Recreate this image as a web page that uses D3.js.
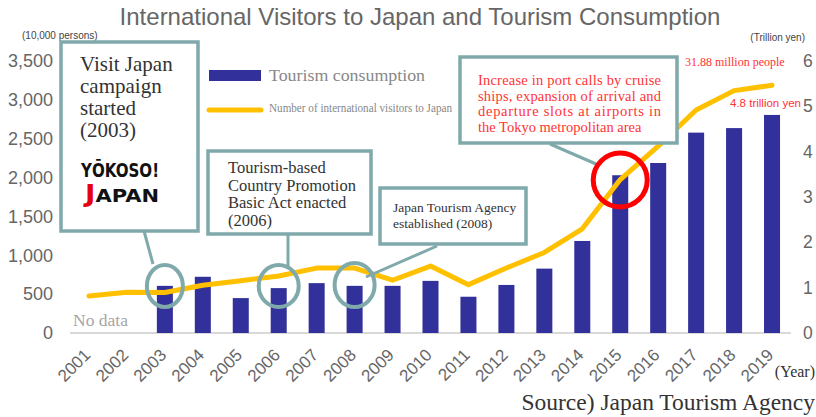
<!DOCTYPE html>
<html>
<head>
<meta charset="utf-8">
<script src="https://cdn.jsdelivr.net/npm/d3@7"></script>
<style>
body{margin:0;background:#fff;}
svg{display:block;}
.serif{font-family:"Liberation Serif","DejaVu Serif",serif;}
.sans{font-family:"Liberation Sans",Arial,sans-serif;}
</style>
</head>
<body>
<svg id="chart" width="816" height="417"></svg>
<script>
const years=["2001","2002","2003","2004","2005","2006","2007","2008","2009","2010","2011","2012","2013","2014","2015","2016","2017","2018","2019"];
// 訪日外国人旅行者数（万人）
const visitors=[477,524,521,614,673,733,835,835,679,861,622,836,1036,1341,1974,2404,2869,3119,3188];
// 旅行消費額（兆円）
const consumption=[null,null,1.04,1.24,0.77,0.99,1.10,1.04,1.04,1.15,0.80,1.06,1.42,2.03,3.48,3.75,4.42,4.52,4.81];
const leftTicks=[0,500,1000,1500,2000,2500,3000,3500];
const rightTicks=[0,1,2,3,4,5,6];

const svg=d3.select("#chart");
const TEAL="#7fa9aa";
const RED="#ff3333";

const x=d3.scaleBand().domain(years).range([70,791]).paddingInner(0.578).paddingOuter(0.289);
const yL=d3.scaleLinear().domain([0,3500]).range([333,61]);
const yR=d3.scaleLinear().domain([0,6]).range([333,61]);
const cx=y=>x(y)+x.bandwidth()/2;

// ---------- タイトル ----------
svg.append("text").attr("class","sans")
    .attr("x",420).attr("y",25).attr("text-anchor","middle")
    .attr("font-size",24).attr("fill","#666")
    .text("International Visitors to Japan and Tourism Consumption");
svg.append("text").attr("class","sans")
    .attr("x",22).attr("y",39).attr("font-size",10).attr("fill","#444")
    .text("(10,000 persons)");
svg.append("text").attr("class","sans")
    .attr("x",805).attr("y",41).attr("text-anchor","end").attr("font-size",10).attr("fill","#444")
    .text("(Trillion yen)");

// ---------- 軸 ----------
const axL=svg.append("g").attr("transform","translate(56,0)")
    .call(d3.axisLeft(yL).tickValues(leftTicks).tickFormat(d3.format(",")).tickSize(0).tickPadding(3));
const axR=svg.append("g").attr("transform","translate(800,0)")
    .call(d3.axisRight(yR).tickValues(rightTicks).tickFormat(d3.format("d")).tickSize(0).tickPadding(3));
[axL,axR].forEach(a=>{
    a.select(".domain").remove();
    a.selectAll("text").attr("font-family","Liberation Sans, Arial, sans-serif")
        .attr("font-size",18).attr("fill","#666");
});
axR.selectAll("text").attr("font-size",17.5);

// 年ラベル（45度回転）
const axB=svg.append("g").attr("transform","translate(0,333)")
    .call(d3.axisBottom(x).tickSize(0));
axB.select(".domain").remove();
axB.selectAll("text")
    .attr("font-family","Liberation Sans, Arial, sans-serif")
    .attr("font-size",17).attr("fill","#666")
    .attr("text-anchor","end").attr("x",0).attr("y",0).attr("dy",null)
    .attr("transform","translate(2.5,23) rotate(-45)");

svg.append("line").attr("x1",70).attr("x2",791).attr("y1",333).attr("y2",333)
    .attr("stroke","#d9d9d9").attr("stroke-width",2);

// ---------- 棒 ----------
svg.append("g").selectAll("rect")
    .data(years.map((y,i)=>({year:y,v:consumption[i]})).filter(d=>d.v!=null))
    .join("rect")
    .attr("x",d=>x(d.year)).attr("width",x.bandwidth())
    .attr("y",d=>yR(d.v)).attr("height",d=>yR(0)-yR(d.v))
    .attr("fill","#32309a");

// ---------- 折れ線 ----------
const line=d3.line().x((d,i)=>cx(years[i])).y(d=>yL(d));
svg.append("path").datum(visitors)
    .attr("d",line).attr("fill","none")
    .attr("stroke","#ffc000").attr("stroke-width",5)
    .attr("stroke-linejoin","round").attr("stroke-linecap","round");

svg.append("text").attr("class","serif")
    .attr("x",73).attr("y",326).attr("font-size",17.5).attr("fill","#a6a6a6")
    .text("No data");

// ---------- 凡例 ----------
svg.append("rect").attr("x",209).attr("y",70).attr("width",52).attr("height",11).attr("fill","#32309a");
svg.append("text").attr("class","serif")
    .attr("x",269).attr("y",81).attr("font-size",17.5).attr("fill","#888")
    .attr("textLength",156).attr("lengthAdjust","spacingAndGlyphs")
    .text("Tourism consumption");
svg.append("line").attr("x1",209).attr("x2",261).attr("y1",110).attr("y2",110)
    .attr("stroke","#ffc000").attr("stroke-width",5).attr("stroke-linecap","round");
svg.append("text").attr("class","serif")
    .attr("x",269).attr("y",112).attr("font-size",11.5).attr("fill","#888")
    .attr("textLength",183).attr("lengthAdjust","spacingAndGlyphs")
    .text("Number of international visitors to Japan");

// ---------- 注釈 ----------
function box(x0,y0,w,h){
    svg.append("rect").attr("x",x0).attr("y",y0).attr("width",w).attr("height",h)
        .attr("fill","#fff").attr("stroke",TEAL).attr("stroke-width",3.5);
}
function leader(x1,y1,x2,y2,color){
    svg.append("line").attr("x1",x1).attr("y1",y1).attr("x2",x2).attr("y2",y2)
        .attr("stroke",color||TEAL).attr("stroke-width",3);
}
function ring(year,cy,rx,ry,color,w){
    svg.append("ellipse").attr("cx",cx(year)).attr("cy",cy).attr("rx",rx).attr("ry",ry)
        .attr("fill","none").attr("stroke",color).attr("stroke-width",w);
}
function lines(arr,x0,y0,dy,size,color,fit){
    const t=svg.append("text").attr("class","serif").attr("font-size",size).attr("fill",color);
    arr.forEach((s,i)=>{
        const ts=t.append("tspan").attr("x",x0).attr("y",y0+i*dy).text(s);
        if(fit&&i<arr.length-1) ts.attr("textLength",fit).attr("lengthAdjust","spacing");
    });
}

// 2003
leader(144,231,153,264);
box(61,42,137,189);
lines(["Visit Japan","campaign","started","(2003)"],80,71,22,21,"#333");
ring("2003",286,18,21,TEAL,4);
// ロゴ
svg.append("text").attr("x",81).attr("y",177)
    .attr("font-family","DejaVu Sans, sans-serif").attr("font-weight","bold")
    .attr("font-size",20).attr("fill","#111")
    .attr("textLength",78).attr("lengthAdjust","spacingAndGlyphs")
    .text("YŌKOSO!");
const logo2=svg.append("text").attr("x",85).attr("y",202)
    .attr("font-family","DejaVu Sans, sans-serif").attr("font-weight","bold")
    .attr("font-size",18).attr("textLength",74).attr("lengthAdjust","spacingAndGlyphs");
logo2.append("tspan").attr("fill","#e60012").attr("font-size",24).text("J");
logo2.append("tspan").attr("fill","#111").text("APAN");

// 2006
leader(288,234,288,266);
box(208,151,163,83);
lines(["Tourism-based","Country Promotion","Basic Act enacted","(2006)"],228,173,17.5,16.5,"#333");
ring("2006",286,20,21,TEAL,4);

// 2008
leader(437,246,366,277);
box(380,188,146,56);
lines(["Japan Tourism Agency","established (2008)"],393,212,15.5,13.5,"#333");
ring("2008",285,20,22,TEAL,4);

// 2015
leader(550,144,596,164);
box(460,57,217,86);
lines(["Increase in port calls by cruise","ships, expansion of arrival and","departure slots at airports in","the Tokyo metropolitan area"],478,85,15.7,14.5,RED,183);
ring("2015",180,27,27,"#ff0000",5);

svg.append("text").attr("class","serif")
    .attr("x",685).attr("y",66).attr("font-size",12).attr("fill",RED)
    .text("31.88 million people");
svg.append("text").attr("class","sans")
    .attr("x",801).attr("y",107).attr("text-anchor","end").attr("font-size",11.5).attr("fill",RED)
    .text("4.8 trillion yen");

// ---------- 出典 ----------
svg.append("text").attr("class","serif")
    .attr("x",815).attr("y",377).attr("text-anchor","end").attr("font-size",16).attr("fill","#333")
    .text("(Year)");
svg.append("text").attr("class","serif")
    .attr("x",815).attr("y",410).attr("text-anchor","end").attr("font-size",23.5).attr("fill","#333")
    .text("Source) Japan Tourism Agency");
</script>
</body>
</html>
